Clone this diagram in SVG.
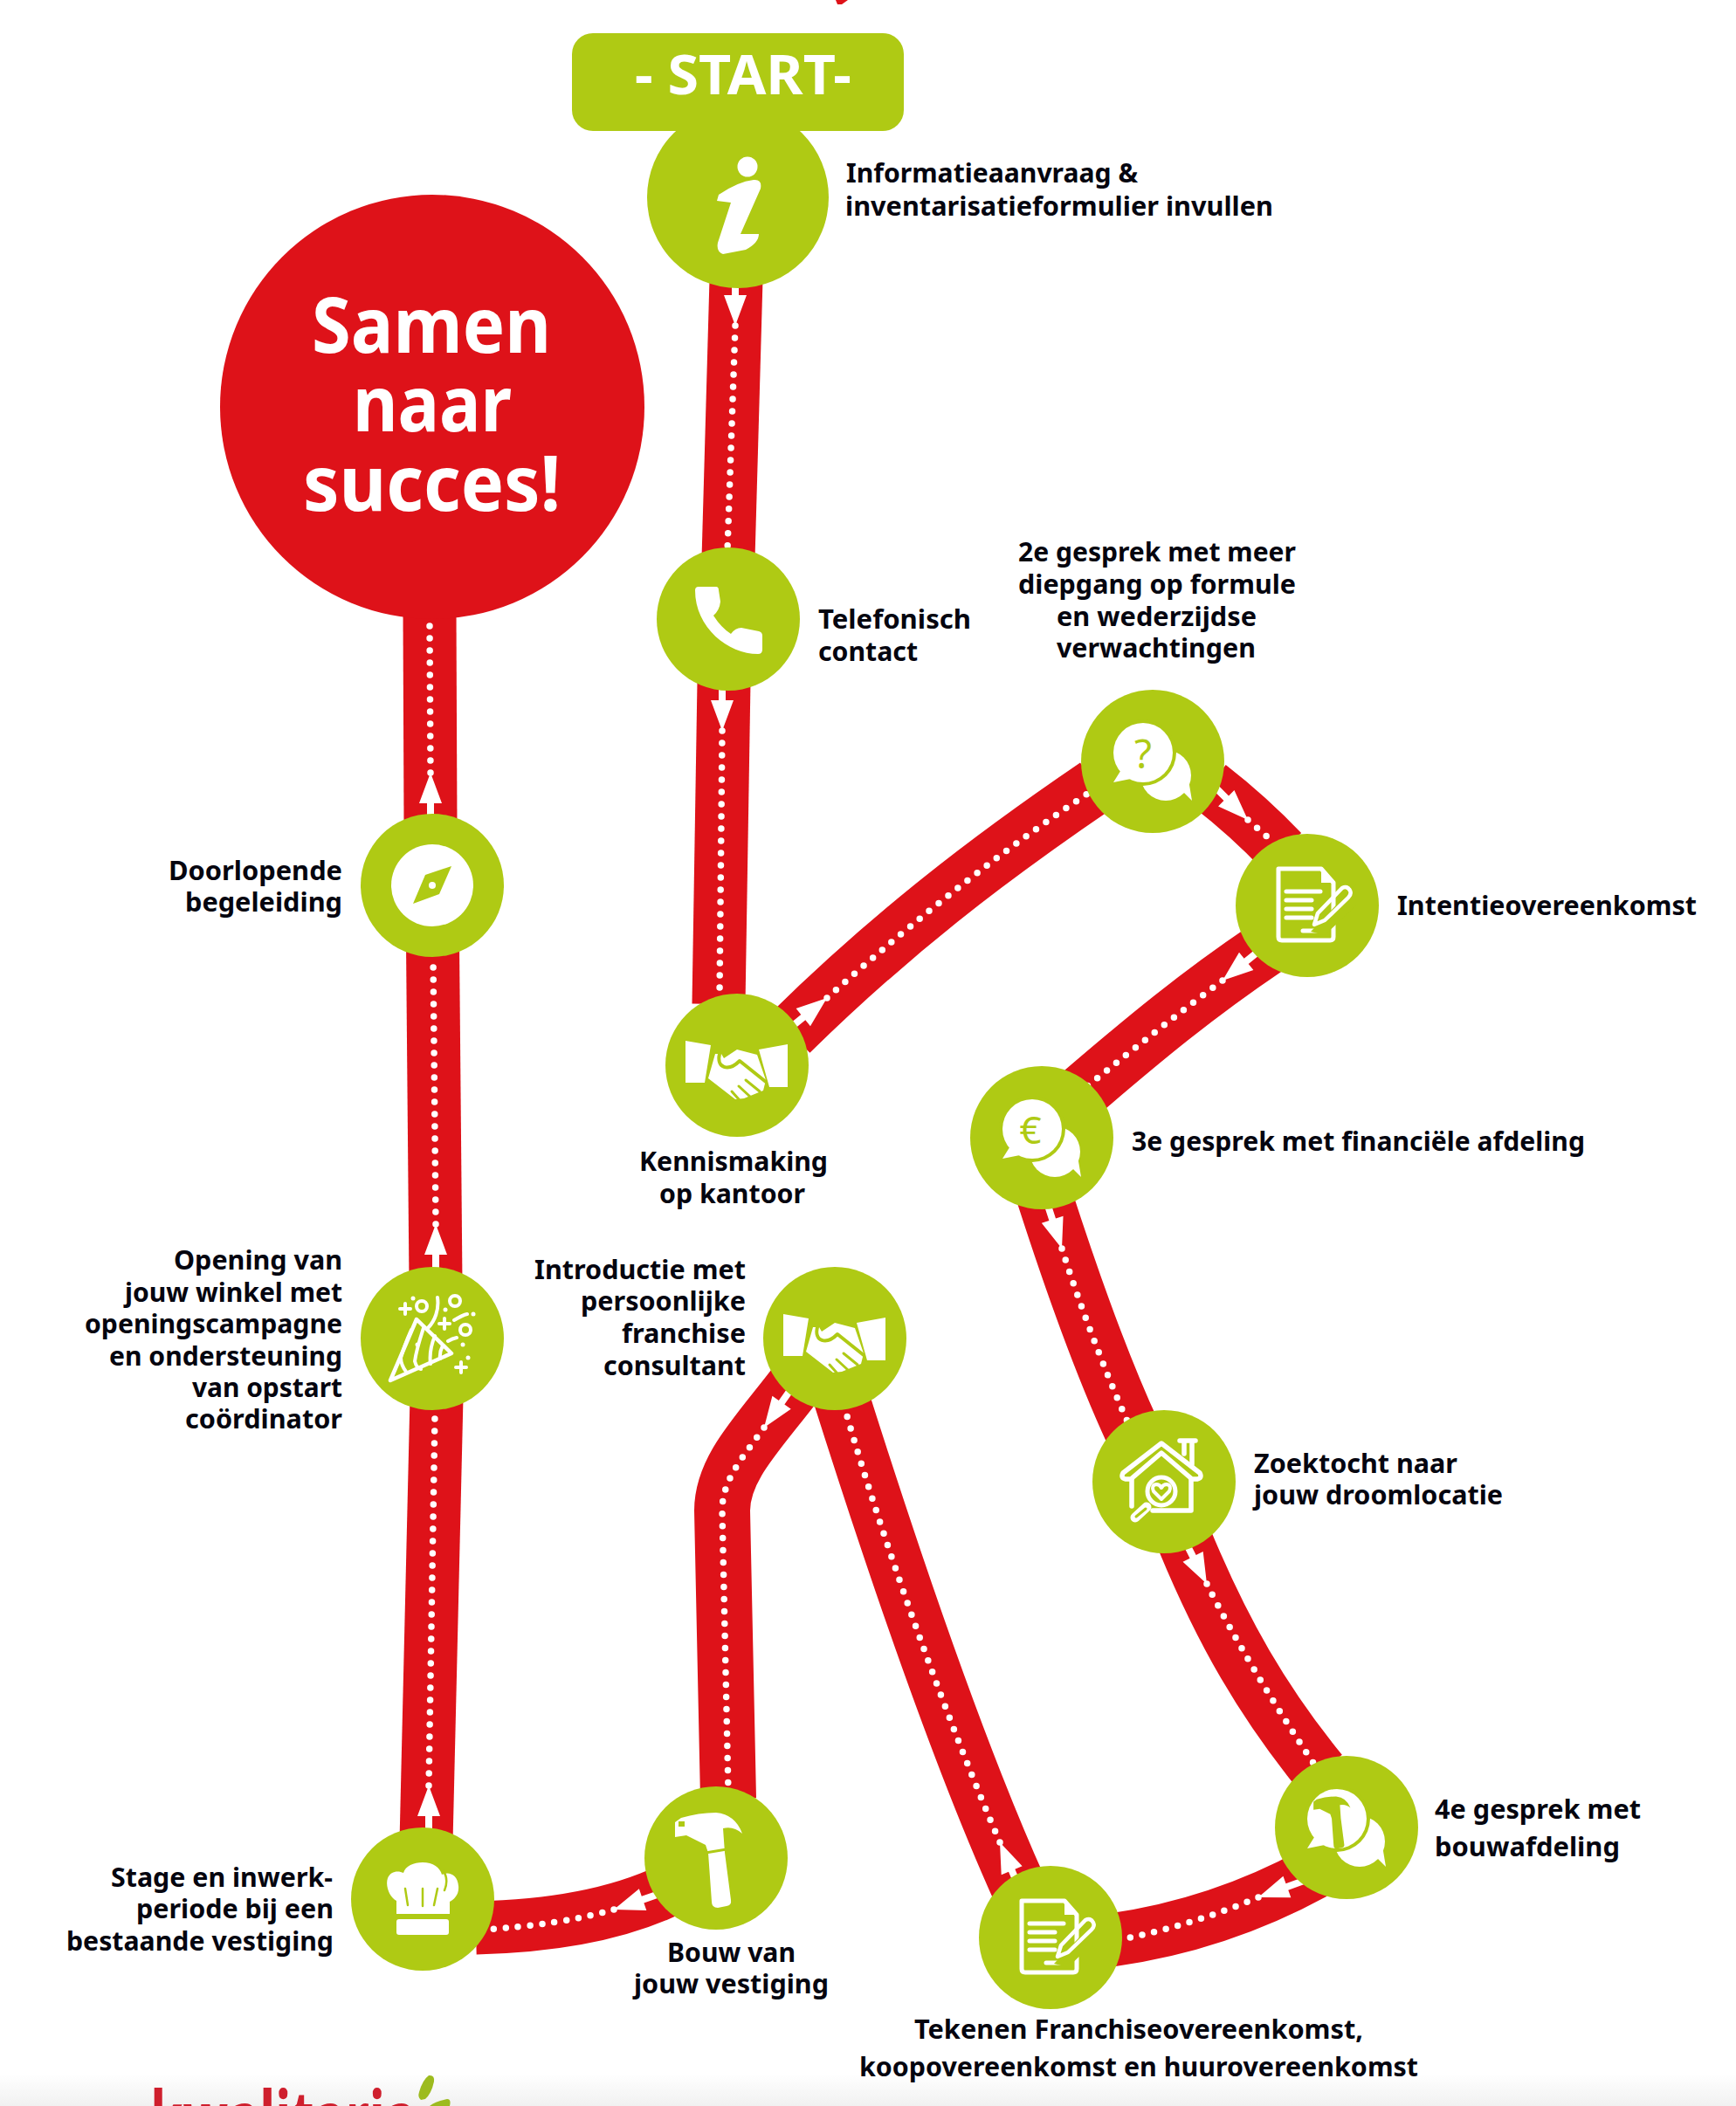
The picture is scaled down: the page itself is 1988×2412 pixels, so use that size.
<svg xmlns="http://www.w3.org/2000/svg" xmlns:xlink="http://www.w3.org/1999/xlink" width="1988" height="2412" viewBox="0 0 1988 2412">
<style>
.t{font-family:"Noto Sans","Liberation Sans",sans-serif;font-weight:700;font-size:31px;fill:#05050f}
.big{font-family:"Noto Sans","Liberation Sans",sans-serif;font-weight:700;font-size:88px;fill:#fff}
.n{fill:#afca14}
.road{fill:none;stroke:#de1219;stroke-width:61}
.diag{stroke-width:64}
.dots{fill:none;stroke:#fff;stroke-width:7.5;stroke-linecap:round;stroke-dasharray:0 14}
.w{fill:#fff}
.g{fill:#afca14}
.ws{fill:none;stroke:#fff;stroke-linecap:round;stroke-linejoin:round}
.gs{fill:none;stroke:#afca14;stroke-linecap:round;stroke-linejoin:round}
.sym{font-family:"Noto Sans","Liberation Sans",sans-serif;fill:#afca14;text-anchor:middle}
</style>
<defs>
<linearGradient id="fade" x1="0" y1="0" x2="0" y2="1"><stop offset="0" stop-color="#fff"/><stop offset="1" stop-color="#f1f1f1"/></linearGradient>
<path id="arrow" fill="#fff" d="M-62,-4 L-35,-4 L-35,-13 L0,0 L-35,13 L-35,4 L-62,4 Z"/>
<g id="hands">
<path class="w" d="M-59,-28 L-30,-23 L-37,20 L-59,20 Z"/>
<path class="w" d="M58,-24 L25,-18 L37,25 L58,25 Z"/>
<path class="w" d="M-25,-13 L-33,15 L-2,39 L8,38 L30,29 L33,17 L23,-12 L0,-18 L-15,-8 L-18,-13 Z"/>
<path class="gs" stroke-width="4" d="M-20,-13 C-24,3 -10,8 3,-5 L33,19"/>
<path class="gs" stroke-width="3" d="M10,17 L26,30 M2,24 L15,36 M-6,30 L2,39"/>
</g>
<g id="bubbles">
<circle class="w" cx="15" cy="16" r="29"/>
<path class="w" d="M30,30 L45,45 L40,15 Z"/>
<circle class="g" cx="-11" cy="-10" r="38"/>
<circle class="w" cx="-11" cy="-10" r="34"/>
<path class="w" d="M-35,8 L-45,24 L-20,19 Z"/>
</g>
<g id="doc">
<path class="ws" stroke-width="5" d="M-33,-42 L16,-42 L30,-26 L30,36 Q30,40 26,40 L-29,40 Q-33,40 -33,36 Z"/>
<path class="w" d="M16,-40 L28,-26 L16,-26 Z"/>
<path class="ws" stroke-width="5" d="M-24,-16 L15,-16 M-24,-6 L5,-6 M-24,4 L5,4 M-24,14 L5,14 M-5,29 L15,29"/>
<path class="g" d="M4,30 L56,-24 L56,0 L20,34 Z"/>
<path class="ws" stroke-width="4.5" d="M12,9 L40,-20 Q46,-23 49,-17 Q51,-13 47,-9 L20,17 L8,22 Z"/>
</g>
<path id="hammer" d="M-47,-41 L-40,-46 Q-20,-52 0,-52 Q22,-50 30,-28 Q20,-37 8,-34 L10,-6 L17,48 Q18,54 12,55 L2,57 Q-5,57 -5,50 L-9,-6 L-12,-15 L-34,-26 L-47,-24 Z"/>
</defs>
<rect width="1988" height="2412" fill="#fff"/>
<rect id="band" y="2375" width="1988" height="37" fill="url(#fade)"/>
<path id="clipped-title" fill="#de1219" d="M957,0 L971,0 L964,5 L959,5 Z"/>

<g id="connectors">
<path class="road" d="M843 320 L834 640"/>
<path class="road" d="M829 780 L823 1150"/>
<path class="road diag" d="M905 1183 C1020 1070 1130 985 1255 900"/>
<path class="road" d="M1385 900 Q1430 935 1468 975"/>
<path class="road diag" d="M1450 1086 C1370 1140 1310 1190 1240 1250"/>
<path class="road diag" d="M1196 1370 C1225 1460 1260 1560 1297 1640"/>
<path class="road diag" d="M1355 1760 C1400 1870 1447 1950 1512 2030"/>
<path class="road" d="M1505 2145 Q1395 2205 1272 2222"/>
<path class="road diag" d="M1168 2165 C1098 2010 1020 1780 960 1590"/>
<path class="road diag" d="M915 1580 C870 1640 827 1680 827 1730 L834 2060"/>
<path class="road" d="M765 2165 Q680 2205 545 2208"/>
<path class="road" d="M488 2110 L500 1600"/>
<path class="road" d="M499 1470 L495.5 1080"/>
<path class="road" d="M493 945 L492 700"/>
<path class="dots" d="M842 373 L833 630"/>
<path class="dots" d="M827 837 L824 1140"/>
<path class="dots" d="M947 1143 C1020 1078 1130 985 1250 906"/>
<path class="dots" d="M1429 939 L1460 966"/>
<path class="dots" d="M1400 1123 C1350 1160 1300 1200 1245 1244"/>
<path class="dots" d="M1216 1430 C1235 1490 1265 1570 1292 1630"/>
<path class="dots" d="M1382 1814 C1410 1870 1457 1950 1508 2025"/>
<path class="dots" d="M1441 2173 Q1365 2205 1280 2222"/>
<path class="dots" d="M1145 2110 C1093 1990 1015 1780 966 1608"/>
<path class="dots" d="M875 1635 C850 1670 827 1695 827 1730 L834 2052"/>
<path class="dots" d="M703 2187 Q640 2205 552 2210"/>
<path class="dots" d="M491 2045 L498 1620"/>
<path class="dots" d="M499 1402 L496 1095"/>
<path class="dots" d="M493 885 L492 716"/>
<use href="#arrow" transform="translate(842 373) rotate(90)"/>
<use href="#arrow" transform="translate(827 837) rotate(90)"/>
<use href="#arrow" transform="translate(947 1143) rotate(-39)"/>
<use href="#arrow" transform="translate(1429 939) rotate(45)"/>
<use href="#arrow" transform="translate(1400 1123) rotate(141)"/>
<use href="#arrow" transform="translate(1216 1430) rotate(72)"/>
<use href="#arrow" transform="translate(1382 1814) rotate(63)"/>
<use href="#arrow" transform="translate(1441 2173) rotate(160)"/>
<use href="#arrow" transform="translate(1145 2110) rotate(-113)"/>
<use href="#arrow" transform="translate(875 1635) rotate(125)"/>
<use href="#arrow" transform="translate(703 2187) rotate(161)"/>
<use href="#arrow" transform="translate(491 2045) rotate(-90)"/>
<use href="#arrow" transform="translate(499 1402) rotate(-90)"/>
<use href="#arrow" transform="translate(493 885) rotate(-90)"/>
</g>

<g id="node-big">
<circle cx="495" cy="466" r="243" fill="#de1219"/>
<text class="big" x="357" y="404" textLength="274" lengthAdjust="spacingAndGlyphs">Samen</text>
<text class="big" x="404" y="494" textLength="182" lengthAdjust="spacingAndGlyphs">naar</text>
<text class="big" x="347" y="585" textLength="295" lengthAdjust="spacingAndGlyphs">succes!</text>
</g>

<g id="node-info">
<circle class="n" cx="845" cy="226" r="104"/>
<g transform="translate(845 226)">
<circle class="w" cx="11" cy="-35" r="11.5"/>
<path class="w" d="M-24,4 L-22,-3 Q0,-18 18,-20 Q28,-21 26,-10 L3,42 L24,42 Q24,52 9,60 L-17,65 Q-25,62 -23,52 L-8,6 Z"/>
</g>
<text class="t" x="969" y="209" textLength="334" lengthAdjust="spacingAndGlyphs">Informatieaanvraag &amp;</text>
<text class="t" x="968" y="247" textLength="490" lengthAdjust="spacingAndGlyphs">inventarisatieformulier invullen</text>
</g>

<g id="node-start">
<rect class="n" x="655" y="38" width="380" height="112" rx="24"/>
<text x="727" y="108" textLength="248" lengthAdjust="spacingAndGlyphs" font-family="'Noto Sans','Liberation Sans',sans-serif" font-weight="700" font-size="62" fill="#fff">- START-</text>
</g>

<g id="node-telefoon">
<circle class="n" cx="834" cy="709" r="82"/>
<path class="w" transform="translate(834 709)" d="M-38,-33 Q-38,-37 -34,-37 L-14,-37 Q-11,-37 -11,-33 L-9,-20 Q-10,-10 -17,-4 Q-8,10 3,17 Q8,10 15,10 L35,14 Q39,15 39,19 L39,35 Q39,40 34,40 C0,40 -38,10 -38,-33 Z"/>
<text class="t" x="937" y="720" textLength="175" lengthAdjust="spacingAndGlyphs">Telefonisch</text>
<text class="t" x="937" y="757" textLength="114" lengthAdjust="spacingAndGlyphs">contact</text>
</g>

<g id="node-kennismaking">
<circle class="n" cx="844" cy="1220" r="82"/>
<use href="#hands" transform="translate(844 1220)"/>
<text class="t" x="732" y="1341" textLength="216" lengthAdjust="spacingAndGlyphs">Kennismaking</text>
<text class="t" x="755" y="1378" textLength="167" lengthAdjust="spacingAndGlyphs">op kantoor</text>
</g>

<g id="node-gesprek2">
<circle class="n" cx="1320" cy="872" r="82"/>
<use href="#bubbles" transform="translate(1320 872)"/>
<text class="sym" x="1309" y="880" font-size="46">?</text>
<text class="t" x="1166" y="643" textLength="318" lengthAdjust="spacingAndGlyphs">2e gesprek met meer</text>
<text class="t" x="1166" y="680" textLength="318" lengthAdjust="spacingAndGlyphs">diepgang op formule</text>
<text class="t" x="1210" y="717" textLength="229" lengthAdjust="spacingAndGlyphs">en wederzijdse</text>
<text class="t" x="1210" y="753" textLength="228" lengthAdjust="spacingAndGlyphs">verwachtingen</text>
</g>

<g id="node-intentie">
<circle class="n" cx="1497" cy="1037" r="82"/>
<use href="#doc" transform="translate(1497 1037)"/>
<text class="t" x="1600" y="1048" textLength="343" lengthAdjust="spacingAndGlyphs">Intentieovereenkomst</text>
</g>

<g id="node-gesprek3">
<circle class="n" cx="1193" cy="1303" r="82"/>
<use href="#bubbles" transform="translate(1193 1303)"/>
<text class="sym" x="1180" y="1310" font-size="44">€</text>
<text class="t" x="1296" y="1318" textLength="519" lengthAdjust="spacingAndGlyphs">3e gesprek met financiële afdeling</text>
</g>

<g id="node-zoektocht">
<circle class="n" cx="1333" cy="1697" r="82"/>
<g transform="translate(1333 1697)">
<path class="ws" stroke-width="5.5" d="M-47,-10 L-3,-44 L41,-10 Q44,-4 38,-3 L32,-3 L-3,-33 L-38,-3 L-44,-3 Q-50,-4 -47,-10 Z"/>
<path class="ws" stroke-width="5.5" d="M-37,-3 L-37,28 M31,-3 L31,33 L-13,33 M18,-47 L36,-47 M23,-46 L23,-32 M32,-46 L32,-20"/>
<circle class="g" cx="-3" cy="11" r="17"/>
<circle class="ws" cx="-3" cy="11" r="16" stroke-width="5"/>
<path class="ws" stroke-width="4" d="M-3,20 L-12,11 Q-15,4 -9,3 Q-5,3 -3,7 Q-1,3 3,3 Q9,4 6,11 Z"/>
<path class="ws" stroke-width="11" d="M-20,29 L-33,41"/>
<path class="gs" stroke-width="3" d="M-21,31 L-32,40"/>
</g>
<text class="t" x="1436" y="1687" textLength="233" lengthAdjust="spacingAndGlyphs">Zoektocht naar</text>
<text class="t" x="1436" y="1723" textLength="285" lengthAdjust="spacingAndGlyphs">jouw droomlocatie</text>
</g>

<g id="node-gesprek4">
<circle class="n" cx="1542" cy="2093" r="82"/>
<use href="#bubbles" transform="translate(1542 2093)"/>
<use href="#hammer" class="g" transform="translate(1530 2086) scale(.55)"/>
<text class="t" x="1643" y="2083" textLength="236" lengthAdjust="spacingAndGlyphs">4e gesprek met</text>
<text class="t" x="1643" y="2126" textLength="212" lengthAdjust="spacingAndGlyphs">bouwafdeling</text>
</g>

<g id="node-tekenen">
<circle class="n" cx="1203" cy="2219" r="82"/>
<use href="#doc" transform="translate(1203 2219)"/>
<text class="t" x="1047" y="2335" textLength="514" lengthAdjust="spacingAndGlyphs">Tekenen Franchiseovereenkomst,</text>
<text class="t" x="984" y="2378" textLength="640" lengthAdjust="spacingAndGlyphs">koopovereenkomst en huurovereenkomst</text>
</g>

<g id="node-introductie">
<circle class="n" cx="956" cy="1533" r="82"/>
<use href="#hands" transform="translate(956 1533)"/>
<text class="t" x="612" y="1465" textLength="242" lengthAdjust="spacingAndGlyphs">Introductie met</text>
<text class="t" x="665" y="1501" textLength="189" lengthAdjust="spacingAndGlyphs">persoonlijke</text>
<text class="t" x="712" y="1538" textLength="142" lengthAdjust="spacingAndGlyphs">franchise</text>
<text class="t" x="691" y="1575" textLength="163" lengthAdjust="spacingAndGlyphs">consultant</text>
</g>

<g id="node-bouw">
<circle class="n" cx="820" cy="2128" r="82"/>
<g transform="translate(820 2128)">
<use href="#hammer" class="w"/>
<path class="gs" stroke-width="3" d="M-12,-6 L12,-10"/>
<rect class="g" x="-43" y="-42" width="7" height="6"/>
</g>
<text class="t" x="764" y="2247" textLength="147" lengthAdjust="spacingAndGlyphs">Bouw van</text>
<text class="t" x="726" y="2283" textLength="223" lengthAdjust="spacingAndGlyphs">jouw vestiging</text>
</g>

<g id="node-stage">
<circle class="n" cx="484" cy="2175" r="82"/>
<g transform="translate(484 2175)">
<path class="w" d="M-30,17 L-30,2 C-38,-2 -43,-15 -40,-24 C-37,-32 -28,-33 -22,-30 C-20,-38 -10,-42 0,-42 C12,-42 20,-36 22,-28 C30,-32 40,-28 41,-15 C42,-5 36,0 31,3 L31,17 Z"/>
<path class="gs" stroke-width="2.5" d="M-20,-12 L-17,7 M0,-12 L0,8 M17,-12 L13,7 M24,-32 Q30,-22 25,-10"/>
<rect class="w" x="-30" y="23" width="60" height="18" rx="3"/>
</g>
<text class="t" x="127" y="2161" textLength="254" lengthAdjust="spacingAndGlyphs">Stage en inwerk-</text>
<text class="t" x="156" y="2197" textLength="226" lengthAdjust="spacingAndGlyphs">periode bij een</text>
<text class="t" x="76" y="2234" textLength="306" lengthAdjust="spacingAndGlyphs">bestaande vestiging</text>
</g>

<g id="node-opening">
<circle class="n" cx="495" cy="1533" r="82"/>
<g transform="translate(495 1533)">
<path class="ws" stroke-width="4.5" d="M-48,48 L-18,-22 L22,17 Z"/>
<path class="ws" stroke-width="4" d="M-24,-10 Q-32,8 -36,22 Q-36,30 -30,38 M-10,-12 Q-18,12 -20,26 Q-18,34 -13,35 M3,-3 Q-4,14 -2,29 M12,8 Q8,16 9,23"/>
<path class="ws" stroke-width="4" d="M6,-47 C8,-33 3,-20 -5,-12 M25,-21 Q35,-27 40,-28 M18,3 Q23,0 28,-1"/>
<circle class="ws" cx="-12" cy="-37" r="6" stroke-width="4"/>
<circle class="ws" cx="26" cy="-43" r="6" stroke-width="4"/>
<circle class="ws" cx="38" cy="-10" r="6" stroke-width="4"/>
<path class="ws" stroke-width="4" d="M-37,-34 L-25,-34 M-31,-40 L-31,-28 M8,-17 L20,-17 M14,-23 L14,-11 M27,33 L39,33 M33,27 L33,39"/>
<g class="w"><circle cx="-22" cy="-46" r="2.5"/><circle cx="15" cy="-33" r="2.5"/><circle cx="47" cy="-28" r="2.5"/><circle cx="35" cy="7" r="2.5"/><circle cx="41" cy="22" r="2.5"/><circle cx="-17" cy="7" r="2.5"/></g>
</g>
<text class="t" x="199" y="1454" textLength="193" lengthAdjust="spacingAndGlyphs">Opening van</text>
<text class="t" x="143" y="1491" textLength="249" lengthAdjust="spacingAndGlyphs">jouw winkel met</text>
<text class="t" x="97" y="1527" textLength="295" lengthAdjust="spacingAndGlyphs">openingscampagne</text>
<text class="t" x="125" y="1564" textLength="267" lengthAdjust="spacingAndGlyphs">en ondersteuning</text>
<text class="t" x="220" y="1600" textLength="172" lengthAdjust="spacingAndGlyphs">van opstart</text>
<text class="t" x="212" y="1636" textLength="180" lengthAdjust="spacingAndGlyphs">coördinator</text>
</g>

<g id="node-doorlopende">
<circle class="n" cx="495" cy="1014" r="82"/>
<circle class="w" cx="495" cy="1014" r="47"/>
<path class="g" transform="translate(495 1014)" d="M22,-22 L8,10 L-22,21 L-8,-12 Z"/>
<circle class="w" cx="495" cy="1014" r="4"/>
<text class="t" x="193" y="1008" textLength="199" lengthAdjust="spacingAndGlyphs">Doorlopende</text>
<text class="t" x="212" y="1044" textLength="180" lengthAdjust="spacingAndGlyphs">begeleiding</text>
</g>

<g id="logo">
<text x="172" y="2459" textLength="305" lengthAdjust="spacingAndGlyphs" font-family="'Noto Sans','Liberation Sans',sans-serif" font-weight="700" font-size="90" fill="#cf1f2d">kwalitaria</text>
<path fill="#9dbb1f" d="M482,2405 Q478,2402 480,2396 Q484,2382 491,2377 Q498,2376 497,2384 Q494,2398 487,2404 Z"/>
<path fill="#9dbb1f" d="M492,2412 Q498,2407 512,2404 Q517,2404 515,2412 Z"/>
</g>
</svg>
